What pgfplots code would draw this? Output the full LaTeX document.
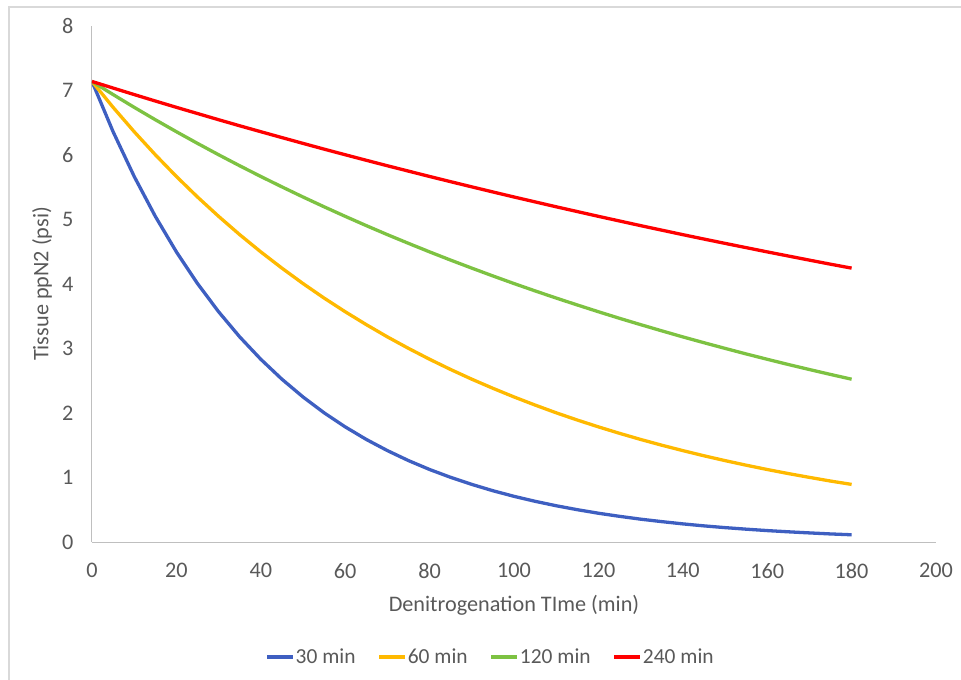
\documentclass[border=0pt]{standalone}
\usepackage{fontspec}
\setmainfont{Carlito}
\usepackage{pgfplots}
\pgfplotsset{compat=1.18}
\definecolor{cblue}{HTML}{3E5FC1}
\definecolor{corange}{HTML}{FFB900}
\definecolor{cgreen}{HTML}{7DC242}
\definecolor{cred}{HTML}{FF0000}
\definecolor{axgray}{HTML}{BFBFBF}
\definecolor{txtgray}{HTML}{595959}
\definecolor{bordergray}{HTML}{D9D9D9}
\newcommand{\cfont}{\fontsize{21.5}{26}\selectfont}
\newcommand{\lfont}{\fontsize{22.3}{26}\selectfont}
\begin{document}
\begin{tikzpicture}
\begin{axis}[
  at={(0,0)}, anchor=south west,
  width=844bp, height=516bp, scale only axis,
  xmin=0, xmax=200, ymin=0, ymax=8,
  xtick={0,20,...,200}, ytick={0,1,...,8},
  axis x line=bottom, axis y line=left,
  axis line style={draw=axgray, line width=1bp, -},
  major tick length=0pt,
  /pgf/number format/assume math mode=true,
  ticklabel style={font=\lfont, text=txtgray},
  yticklabel shift=15bp,
  xticklabel shift=18bp,
  xlabel={Denitrogenation TIme (min)},
  ylabel={Tissue ppN2 (psi)},
  label style={font=\lfont, text=txtgray},
  xlabel style={at={(axis description cs:0.5,-0.1221)}, anchor=center},
  ylabel style={at={(axis description cs:-0.0592,0.5)}, anchor=center},
  legend style={at={(axis description cs:0.4716,-0.2229)}, anchor=center, draw=none,
    font=\cfont, text=txtgray, nodes={inner sep=1bp},
    /tikz/every even column/.append style={column sep=21bp}},
  legend columns=4,
  legend cell align=left,
  legend image code/.code={\draw[#1] (0bp,0bp) -- (26bp,0bp);},
  every axis plot/.append style={line width=3.3bp, line join=round},
]
\addplot[cblue] coordinates {
(0,7.14)(5,6.361)(10,5.667)(15,5.049)(20,4.498)(25,4.007)(30,3.570)(35,3.180)(40,2.833)(45,2.524)(50,2.249)(55,2.003)(60,1.785)(65,1.590)(70,1.417)(75,1.262)(80,1.124)(85,1.002)(90,0.893)(95,0.795)(100,0.708)(105,0.631)(110,0.562)(115,0.501)(120,0.446)(125,0.398)(130,0.354)(135,0.316)(140,0.281)(145,0.250)(150,0.223)(155,0.199)(160,0.177)(165,0.158)(170,0.141)(175,0.125)(180,0.112)};
\addlegendentry{30 min}
\addplot[corange] coordinates {
(0,7.14)(5,6.739)(10,6.361)(15,6.004)(20,5.667)(25,5.349)(30,5.049)(35,4.765)(40,4.498)(45,4.246)(50,4.007)(55,3.782)(60,3.570)(65,3.370)(70,3.180)(75,3.002)(80,2.833)(85,2.674)(90,2.524)(95,2.383)(100,2.249)(105,2.123)(110,2.003)(115,1.891)(120,1.785)(125,1.685)(130,1.590)(135,1.501)(140,1.417)(145,1.337)(150,1.262)(155,1.191)(160,1.124)(165,1.061)(170,1.002)(175,0.945)(180,0.893)};
\addlegendentry{60 min}
\addplot[cgreen] coordinates {
(0,7.14)(5,6.937)(10,6.739)(15,6.547)(20,6.361)(25,6.180)(30,6.004)(35,5.833)(40,5.667)(45,5.506)(50,5.349)(55,5.197)(60,5.049)(65,4.905)(70,4.765)(75,4.630)(80,4.498)(85,4.370)(90,4.246)(95,4.125)(100,4.007)(105,3.893)(110,3.782)(115,3.675)(120,3.570)(125,3.468)(130,3.370)(135,3.274)(140,3.180)(145,3.090)(150,3.002)(155,2.916)(160,2.833)(165,2.752)(170,2.674)(175,2.598)(180,2.524)};
\addlegendentry{120 min}
\addplot[cred] coordinates {
(0,7.14)(5,7.038)(10,6.937)(15,6.837)(20,6.739)(25,6.643)(30,6.547)(35,6.453)(40,6.361)(45,6.270)(50,6.180)(55,6.091)(60,6.004)(65,5.918)(70,5.833)(75,5.750)(80,5.667)(85,5.586)(90,5.506)(95,5.427)(100,5.349)(105,5.273)(110,5.197)(115,5.123)(120,5.049)(125,4.977)(130,4.905)(135,4.835)(140,4.765)(145,4.697)(150,4.630)(155,4.564)(160,4.498)(165,4.434)(170,4.370)(175,4.307)(180,4.246)};
\addlegendentry{240 min}
\end{axis}
\draw[bordergray, line width=1.2bp] (-83bp,-140bp) -- (-83bp,535bp) -- (871bp,535bp);
\pgfresetboundingbox
\path[use as bounding box] (-92bp,-138bp) rectangle (869bp,542bp);
\end{tikzpicture}
\end{document}
